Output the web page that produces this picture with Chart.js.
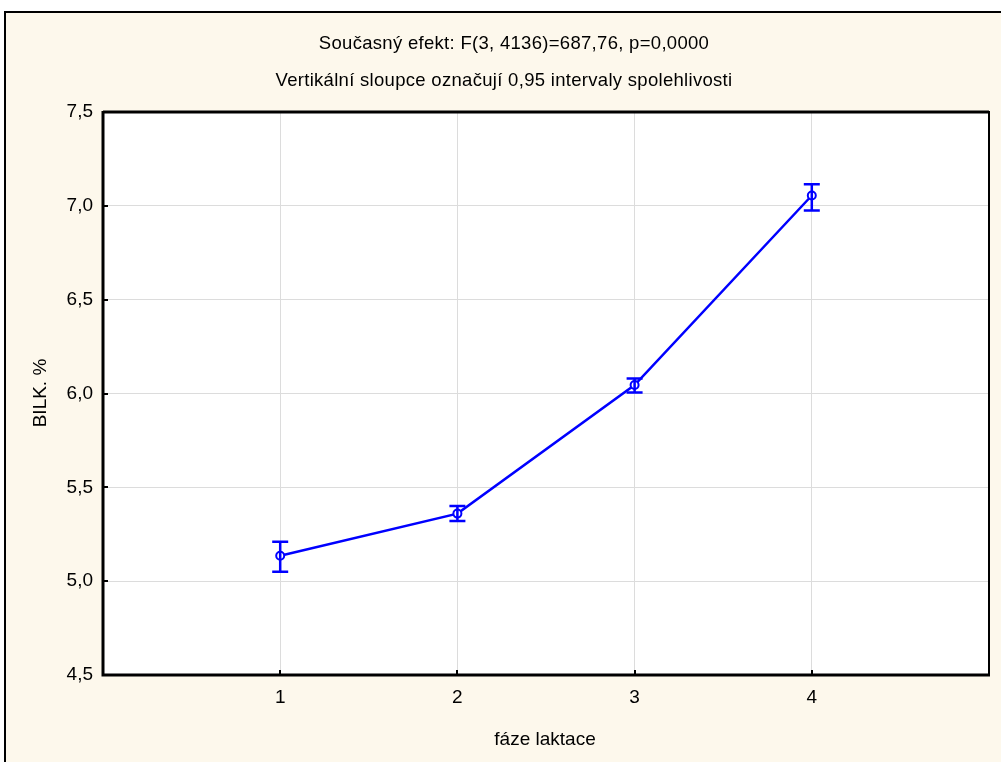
<!DOCTYPE html>
<html>
<head>
<meta charset="utf-8">
<script src="https://cdn.jsdelivr.net/npm/chart.js@4.4.1/dist/chart.umd.min.js"></script>
<style>
html,body{margin:0;padding:0;background:#fff;}
#wrap{position:relative;width:1001px;height:762px;}
canvas{display:block;}
</style>
</head>
<body>
<div id="wrap"><canvas id="c" width="1001" height="762"></canvas></div>
<script>
const categories = [1, 2, 3, 4];
const means = [5.135, 5.36, 6.045, 7.055];
const lower = [5.05, 5.32, 6.005, 6.975];
const upper = [5.21, 5.40, 6.08, 7.115];
const yTicks = [4.5, 5.0, 5.5, 6.0, 6.5, 7.0, 7.5];
const titleLines = ['Současný efekt: F(3, 4136)=687,76, p=0,0000', 'Vertikální sloupce označují 0,95 intervaly spolehlivosti'];
const xTitle = 'fáze laktace';
const yTitle = 'BILK. %';

const FONT = '"Liberation Sans", Arial, sans-serif';
const BLUE = '#0000FF';

const framePlugin = {
  id: 'frame',
  beforeDraw(chart) {
    const ctx = chart.ctx;
    ctx.save();
    ctx.fillStyle = '#ffffff';
    ctx.fillRect(0, 0, chart.width, chart.height);
    ctx.fillStyle = '#FDF8EC';
    ctx.fillRect(5, 12, chart.width, chart.height);
    ctx.strokeStyle = '#000';
    ctx.lineWidth = 2;
    ctx.beginPath();
    ctx.moveTo(5, chart.height + 5);
    ctx.lineTo(5, 12);
    ctx.lineTo(chart.width + 5, 12);
    ctx.stroke();
    const a = chart.chartArea;
    ctx.fillStyle = '#ffffff';
    ctx.fillRect(a.left, a.top, a.right - a.left, a.bottom - a.top);
    // titles
    ctx.fillStyle = '#000';
    ctx.font = '18.5px ' + FONT;
    ctx.letterSpacing = '0.3px';
    ctx.textAlign = 'center';
    ctx.textBaseline = 'middle';
    ctx.fillText(titleLines[0], 514, 44);
    ctx.fillText(titleLines[1], 504, 81);
    ctx.letterSpacing = '0px';
    ctx.font = '19px ' + FONT;
    ctx.fillText(xTitle, 545, 740);
    ctx.save();
    ctx.translate(41, 393);
    ctx.rotate(-Math.PI / 2);
    ctx.fillText(yTitle, 0, 0);
    ctx.restore();
    ctx.restore();
  },
  afterDraw(chart) {
    const ctx = chart.ctx;
    const a = chart.chartArea;
    const xs = chart.scales.x, ys = chart.scales.y;
    ctx.save();
    ctx.strokeStyle = '#000';
    ctx.lineWidth = 2;
    ctx.strokeRect(a.left, a.top, a.right - a.left, a.bottom - a.top);
    ctx.lineWidth = 3;
    ctx.beginPath();
    ctx.moveTo(a.left, a.top - 1);
    ctx.lineTo(a.left, a.bottom);
    ctx.lineTo(a.right + 1, a.bottom);
    ctx.moveTo(a.left, a.top);
    ctx.lineTo(a.right, a.top);
    ctx.stroke();
    ctx.lineWidth = 2;
    ctx.beginPath();
    yTicks.forEach(v => {
      const py = Math.round(ys.getPixelForValue(v));
      ctx.moveTo(a.left, py); ctx.lineTo(a.left + 5, py);
    });
    categories.forEach(v => {
      const px = Math.round(xs.getPixelForValue(v));
      ctx.moveTo(px, a.bottom); ctx.lineTo(px, a.bottom - 5);
    });
    ctx.stroke();
    ctx.restore();
  },
  afterDatasetsDraw(chart) {
    const ctx = chart.ctx;
    const xs = chart.scales.x, ys = chart.scales.y;
    ctx.save();
    ctx.strokeStyle = BLUE;
    ctx.lineWidth = 2.5;
    ctx.beginPath();
    categories.forEach((c, i) => {
      const px = xs.getPixelForValue(c);
      const pt = ys.getPixelForValue(upper[i]);
      const pb = ys.getPixelForValue(lower[i]);
      ctx.moveTo(px, pt); ctx.lineTo(px, pb);
      ctx.moveTo(px - 8, pt); ctx.lineTo(px + 8, pt);
      ctx.moveTo(px - 8, pb); ctx.lineTo(px + 8, pb);
    });
    ctx.stroke();
    ctx.restore();
  }
};

new Chart(document.getElementById('c'), {
  type: 'line',
  data: {
    datasets: [{
      data: categories.map((c, i) => ({x: c, y: means[i]})),
      borderColor: BLUE,
      borderWidth: 2.5,
      backgroundColor: '#ffffff',
      pointRadius: 4,
      pointBorderWidth: 2,
      pointBorderColor: BLUE,
      pointBackgroundColor: '#ffffff',
      tension: 0
    }]
  },
  options: {
    responsive: false,
    animation: false,
    events: [],
    layout: {padding: {top: 112, left: 0, right: 12, bottom: 0}},
    plugins: {legend: {display: false}, tooltip: {enabled: false}, title: {display: false}},
    scales: {
      x: {
        type: 'linear',
        min: 0, max: 5,
        afterBuildTicks(scale) { scale.ticks = categories.map(v => ({value: v})); },
        afterFit(scale) { scale.height = 87; },
        grid: {color: '#dcdcdc', lineWidth: 1, drawTicks: false},
        border: {display: false},
        ticks: {color: '#000', font: {family: FONT, size: 19}, padding: 11, callback: v => String(v)}
      },
      y: {
        min: 4.5, max: 7.5,
        afterBuildTicks(scale) { scale.ticks = yTicks.map(v => ({value: v})); },
        afterFit(scale) { scale.width = 103; },
        grid: {color: '#dcdcdc', lineWidth: 1, drawTicks: false},
        border: {display: false},
        ticks: {color: '#000', font: {family: FONT, size: 19}, padding: 10,
          callback: v => v.toFixed(1).replace('.', ',')}
      }
    }
  },
  plugins: [framePlugin]
});
</script>
</body>
</html>
